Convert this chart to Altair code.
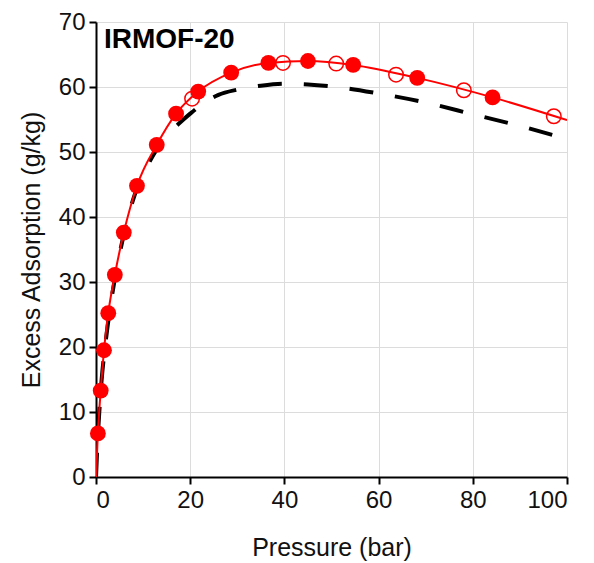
import altair as alt
import pandas as pd

# Adsorption (filled) measurements
ads_p = [0.4, 1.0, 1.7, 2.6, 4.0, 5.9, 8.7, 12.9, 17.0, 21.7, 28.7, 36.6, 45.0, 54.6, 68.2, 84.2]
ads_q = [6.7, 13.3, 19.5, 25.2, 31.1, 37.6, 44.8, 51.1, 55.9, 59.3, 62.2, 63.7, 64.0, 63.4, 61.4, 58.4]

# Desorption (open) measurements
des_p = [20.4, 39.7, 51.0, 63.7, 78.1, 97.2]
des_q = [58.2, 63.7, 63.6, 61.9, 59.5, 55.5]

# Red fit curve
fit_p = [0, 0.4, 1.0, 1.7, 2.6, 4.0, 5.9, 8.7, 12.9, 17.0, 21.7, 28.7, 36.6, 45.0, 54.6, 68.2, 84.2, 100]
fit_q = [0, 6.7, 13.3, 19.5, 25.2, 31.1, 37.6, 44.8, 51.1, 55.9, 59.3, 62.2, 63.7, 64.0, 63.4, 61.4, 58.4, 54.9]

# Black dashed model curve
mod_p = [0, 0.3, 0.7, 1.2, 2, 3, 4, 5.5, 7, 9, 11, 13, 15, 17.5, 20, 23, 26, 30, 35, 40, 45, 50, 60, 70, 80, 90, 100]
mod_q = [0, 5, 10, 15, 20.5, 26, 30.5, 36, 40.5, 45, 48, 50.5, 52.5, 54.3, 55.9, 57.6, 58.8, 59.6, 60.2, 60.5, 60.4, 60.1, 59.0, 57.6, 55.8, 54.0, 52.0]

title_text = "IRMOF-20"

ads = pd.DataFrame({"p": ads_p, "q": ads_q})
des = pd.DataFrame({"p": des_p, "q": des_q})
fit = pd.DataFrame({"p": fit_p, "q": fit_q})
mod = pd.DataFrame({"p": mod_p, "q": mod_q})

FONT = "Liberation Sans"

xscale = alt.Scale(domain=[0, 100], nice=False)
yscale = alt.Scale(domain=[0, 70], nice=False)

xenc = alt.X("p:Q", scale=xscale, title="Pressure (bar)",
             axis=alt.Axis(values=[0, 20, 40, 60, 80, 100], grid=True))
yenc = alt.Y("q:Q", scale=yscale, title="Excess Adsorption (g/kg)",
             axis=alt.Axis(values=[0, 10, 20, 30, 40, 50, 60, 70], grid=True))

model_line = alt.Chart(mod).mark_line(
    color="black", strokeWidth=4, strokeDash=[24, 22], strokeCap="butt",
    interpolate="monotone", clip=True
).encode(x=xenc, y=yenc)

fit_line = alt.Chart(fit).mark_line(
    color="#ff0000", strokeWidth=2, interpolate="monotone", clip=True
).encode(x="p:Q", y="q:Q")

filled = alt.Chart(ads).mark_point(
    shape="circle", filled=True, color="#ff0000", size=250, opacity=1
).encode(x="p:Q", y="q:Q")

opened = alt.Chart(des).mark_point(
    shape="circle", filled=False, color="#ff0000", size=210, strokeWidth=1.5, opacity=1
).encode(x="p:Q", y="q:Q")

label = alt.Chart(pd.DataFrame({"t": [title_text]})).mark_text(
    font=FONT, fontSize=28, fontWeight="bold", color="black", align="left", baseline="middle"
).encode(x=alt.value(8), y=alt.value(18), text="t:N")

chart = alt.layer(model_line, fit_line, filled, opened, label).properties(
    width=471, height=455,
    autosize=alt.AutoSizeParams(type="none"),
    padding={"left": 88, "top": 14, "right": 19, "bottom": 86},
).configure_view(stroke=None).configure_axis(
    labelFont=FONT, titleFont=FONT, labelFontSize=24, titleFontSize=25,
    labelColor="#111", titleColor="#111", titleFontWeight="normal",
    domainColor="black", domainWidth=2, tickColor="black", tickWidth=2, tickSize=7,
    gridColor="#dcdcdc", gridWidth=1,
).configure_axisX(labelPadding=4, titlePadding=23).configure_axisY(labelPadding=4, titlePadding=14)

chart.save("out.html", embed_options={"renderer": "svg", "actions": False})
